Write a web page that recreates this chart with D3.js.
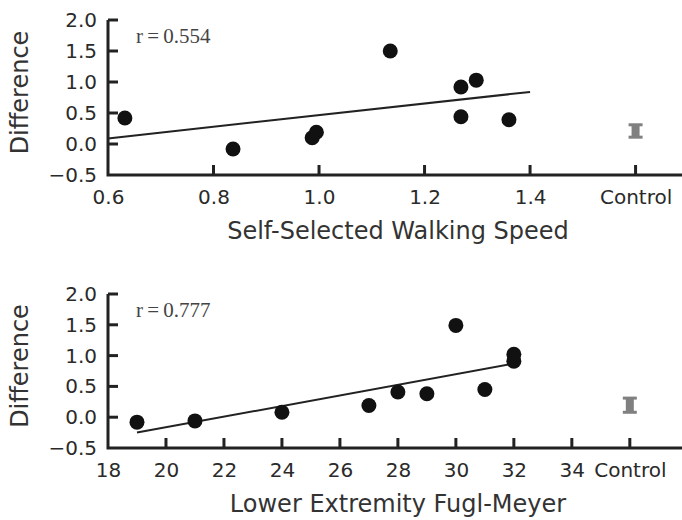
<!DOCTYPE html>
<html>
<head>
<meta charset="utf-8">
<script src="https://cdn.jsdelivr.net/npm/d3@7"></script>
<style>
    body { margin: 0; background: #fff; }
    svg { display: block; }
    .tick text { font-family: "DejaVu Sans", sans-serif; fill: #2a2a2a; }
</style>
</head>
<body>
<svg id="chart" width="682" height="520"></svg>
<script>
// walking speed panel
const speedX = [0.632, 0.837, 0.987, 0.995, 1.135, 1.269, 1.298, 1.269, 1.36];
const speedDiff = [0.42, -0.08, 0.10, 0.19, 1.50, 0.92, 1.03, 0.44, 0.39];
const speedFitX = [0.6, 1.4];
const speedFitY = [0.09, 0.84];
const speedTicks = [0.6, 0.8, 1.0, 1.2, 1.4];
const speedControl = {x: 1.6, lo: 0.11, hi: 0.31};

// fugl-meyer panel
const fmX = [19, 21, 24, 27, 28, 29, 30, 31, 32, 32];
const fmDiff = [-0.08, -0.06, 0.08, 0.19, 0.41, 0.38, 1.49, 0.45, 1.02, 0.91];
const fmFitX = [19, 32];
const fmFitY = [-0.25, 0.87];
const fmTicks = [18, 20, 22, 24, 26, 28, 30, 32, 34];
const fmControl = {x: 36, lo: 0.08, hi: 0.31};

const yTicks = [-0.5, 0.0, 0.5, 1.0, 1.5, 2.0];

const svg = d3.select("#chart");

function drawPanel(opt) {
    const g = svg.append("g");
    const x = d3.scaleLinear().domain(opt.xDomain).range([108, 682]);
    const y = d3.scaleLinear().domain([-0.5, 2.0]).range([opt.bottom, opt.top]);

    const xTickVals = opt.xTicks.concat([opt.control.x]);
    const xAxis = d3.axisBottom(x)
        .tickValues(xTickVals)
        .tickSize(0)
        .tickPadding(15)
        .tickFormat(d => d === opt.control.x ? "Control" : opt.fmt(d));
    const xg = g.append("g")
        .attr("transform", "translate(0," + opt.bottom + ")")
        .call(xAxis);
    xg.select(".domain").remove();

    const yAxis = d3.axisLeft(y)
        .tickValues(yTicks)
        .tickSize(0)
        .tickPadding(11)
        .tickFormat(d => d3.format(".1f")(d).replace("-", "\u2212"));
    const yg = g.append("g")
        .attr("transform", "translate(108,0)")
        .call(yAxis);
    yg.select(".domain").remove();
    g.selectAll(".tick text").attr("font-size", 20);

    // inward tick marks (matplotlib style)
    g.selectAll("line.xt")
        .data(xTickVals.filter(d => d !== opt.xDomain[0]))
        .enter().append("line")
        .attr("class", "xt")
        .attr("x1", d => x(d)).attr("x2", d => x(d))
        .attr("y1", opt.bottom).attr("y2", opt.bottom - 10)
        .attr("stroke", "#222").attr("stroke-width", 3);
    g.selectAll("line.yt")
        .data(yTicks.filter(d => d !== -0.5))
        .enter().append("line")
        .attr("class", "yt")
        .attr("x1", 108).attr("x2", 118)
        .attr("y1", d => y(d)).attr("y2", d => y(d))
        .attr("stroke", "#222").attr("stroke-width", 3);

    // spines
    g.append("path")
        .attr("d", "M108," + opt.top + "V" + opt.bottom + "H682")
        .attr("fill", "none")
        .attr("stroke", "#222")
        .attr("stroke-width", 3);

    // fit line
    g.append("line")
        .attr("x1", x(opt.fitX[0])).attr("y1", y(opt.fitY[0]))
        .attr("x2", x(opt.fitX[1])).attr("y2", y(opt.fitY[1]))
        .attr("stroke", "#222")
        .attr("stroke-width", 2);

    g.selectAll("circle.pt")
        .data(opt.xs)
        .enter()
        .append("circle")
        .attr("class", "pt")
        .attr("cx", d => x(d))
        .attr("cy", (d, i) => y(opt.ys[i]))
        .attr("r", 7.5)
        .attr("fill", "#111");

    // control error bar
    const cx = x(opt.control.x);
    g.append("rect")
        .attr("x", cx - 4).attr("width", 8)
        .attr("y", y(opt.control.hi)).attr("height", y(opt.control.lo) - y(opt.control.hi))
        .attr("fill", "#808080");
    [opt.control.lo, opt.control.hi].forEach(v => {
        g.append("rect")
            .attr("x", cx - 7).attr("width", 14)
            .attr("y", y(v) - 1.5).attr("height", 3)
            .attr("fill", "#808080");
    });

    g.append("text")
        .attr("x", 136)
        .attr("y", opt.top + 23)
        .attr("font-family", "Liberation Serif, serif")
        .attr("font-size", 21)
        .attr("fill", "#444")
        .text(opt.rText);

    g.append("text")
        .attr("x", 398)
        .attr("y", opt.bottom + 64)
        .attr("text-anchor", "middle")
        .attr("font-family", "DejaVu Sans, sans-serif")
        .attr("font-size", 24)
        .attr("fill", "#333")
        .text(opt.xLabel);

    g.append("text")
        .attr("transform", "translate(28," + ((opt.top + opt.bottom) / 2 - 5) + ") rotate(-90)")
        .attr("text-anchor", "middle")
        .attr("font-family", "DejaVu Sans, sans-serif")
        .attr("font-size", 24)
        .attr("fill", "#333")
        .text("Difference");
}

drawPanel({
    xDomain: [0.6, 1.688], top: 20, bottom: 175,
    xTicks: speedTicks, fmt: d3.format(".1f"), control: speedControl,
    xs: speedX, ys: speedDiff, fitX: speedFitX, fitY: speedFitY,
    rText: "r\u2009=\u20090.554", xLabel: "Self-Selected Walking Speed"
});

drawPanel({
    xDomain: [18, 37.8], top: 294, bottom: 448,
    xTicks: fmTicks, fmt: d3.format("d"), control: fmControl,
    xs: fmX, ys: fmDiff, fitX: fmFitX, fitY: fmFitY,
    rText: "r\u2009=\u20090.777", xLabel: "Lower Extremity Fugl-Meyer"
});
</script>
</body>
</html>
